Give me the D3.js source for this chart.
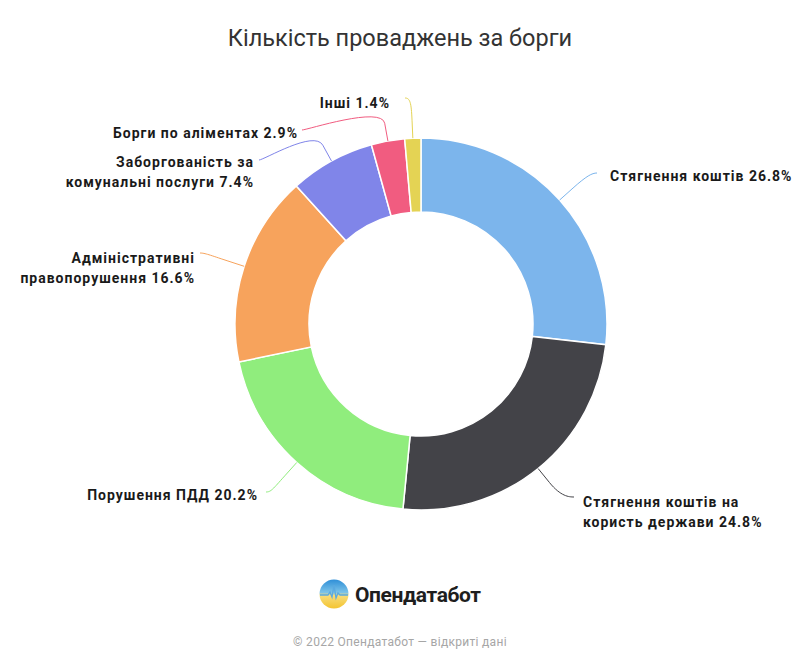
<!DOCTYPE html>
<html>
<head>
<meta charset="utf-8">
<script src="https://cdn.jsdelivr.net/npm/d3@7"></script>
<style>
  body { margin: 0; background: #fff; }
  svg { display: block; font-family: Roboto, "Noto Sans", sans-serif; }
</style>
</head>
<body>
<div id="chart"></div>
<script>
// Кількість проваджень за борги (share, %)
const categories = [
  "Стягнення коштів",
  "Стягнення коштів на користь держави",
  "Порушення ПДД",
  "Адміністративні правопорушення",
  "Заборгованість за комунальні послуги",
  "Борги по аліментах",
  "Інші"
];
const values = [26.8, 24.8, 20.2, 16.6, 7.4, 2.9, 1.4];
// label text split into lines as in the picture
const labelLines = [
  ["Стягнення коштів 26.8%"],
  ["Стягнення коштів на", "користь держави 24.8%"],
  ["Порушення ПДД 20.2%"],
  ["Адміністративні", "правопорушення 16.6%"],
  ["Заборгованість за", "комунальні послуги 7.4%"],
  ["Борги по аліментах 2.9%"],
  ["Інші 1.4%"]
];

const colors = ["#7cb5ec", "#434348", "#90ed7d", "#f7a35c", "#8085e9", "#f15c80", "#e4d354"];

// label placement (text anchor x, first line y, side, connector end) - layout only
const labelLayout = [
  { x: 610, y: 176, side: "r", cx: 597, cy: 173 },
  { x: 583, y: 502, side: "r", cx: 574, cy: 497 },
  { x: 258, y: 495, side: "l", cx: 266, cy: 492 },
  { x: 195, y: 258, side: "l", cx: 200, cy: 253 },
  { x: 254, y: 162, side: "l", cx: 259, cy: 160 },
  { x: 298, y: 133, side: "l", cx: 302, cy: 130 },
  { x: 390, y: 103, side: "l", cx: 405, cy: 98 }
];

const W = 800, H = 666;
const cx = 421, cy = 324, rOuter = 186, rInner = 112;

const svg = d3.select("#chart").append("svg")
  .attr("width", W).attr("height", H);

// title
svg.append("text")
  .attr("x", 400).attr("y", 46)
  .attr("text-anchor", "middle")
  .attr("fill", "#333")
  .style("font-size", "23.5px")
  .text("Кількість проваджень за борги");

const pie = d3.pie().sort(null).value(d => d);
const arcs = pie(values);
const arc = d3.arc().innerRadius(rInner).outerRadius(rOuter);

const g = svg.append("g").attr("transform", `translate(${cx},${cy})`);

g.selectAll("path.slice")
  .data(arcs)
  .enter().append("path")
  .attr("class", "slice")
  .attr("d", arc)
  .attr("fill", (d, i) => colors[i])
  .attr("stroke", "#fff")
  .attr("stroke-width", 1.5);

// connectors (soft connector, Highcharts-like)
const pos = (a, r) => [cx + r * Math.sin(a), cy - r * Math.cos(a)];
arcs.forEach((d, i) => {
  const a = (d.startAngle + d.endAngle) / 2;
  const touch = pos(a, rOuter);
  const brk = pos(a, rOuter + 18);
  const L = labelLayout[i];
  const p = d3.path();
  p.moveTo(L.cx, L.cy);
  p.bezierCurveTo(L.cx + (L.side === "r" ? -5 : 5), L.cy,
    2 * brk[0] - touch[0], 2 * brk[1] - touch[1], brk[0], brk[1]);
  p.lineTo(touch[0], touch[1]);
  svg.append("path")
    .attr("d", p.toString())
    .attr("fill", "none")
    .attr("stroke", colors[i])
    .attr("stroke-width", 1);
});

// labels
labelLines.forEach((lines, i) => {
  const L = labelLayout[i];
  const t = svg.append("text")
    .attr("text-anchor", L.side === "r" ? "start" : "end")
    .attr("fill", "#1a1a1a")
    .style("font-size", "14px")
    .style("font-weight", "bold")
    .style("letter-spacing", "1px");
  lines.forEach((ln, j) => {
    t.append("tspan")
      .attr("x", L.x)
      .attr("y", L.y + 19.5 * j + 5)
      .text(ln);
  });
});

// logo
const logo = svg.append("g").attr("transform", "translate(334,594)");
const grad = svg.append("defs").append("linearGradient")
  .attr("id", "lg").attr("x1", 0).attr("y1", 0).attr("x2", 0).attr("y2", 1);
grad.append("stop").attr("offset", "0%").attr("stop-color", "#2f8fd8");
grad.append("stop").attr("offset", "45%").attr("stop-color", "#7cc3e8");
grad.append("stop").attr("offset", "55%").attr("stop-color", "#f7dc7a");
grad.append("stop").attr("offset", "100%").attr("stop-color", "#f4c430");
logo.append("circle").attr("r", 14.5).attr("fill", "url(#lg)");
logo.append("path")
  .attr("d", "M-14,1 L-6,1 L-4,-2 L-2,3 L0,-9 L2,4 L4,-1 L6,1 L14,1")
  .attr("fill", "none").attr("stroke", "#5aa9e0").attr("stroke-width", 1.3);
svg.append("text")
  .attr("x", 355).attr("y", 602)
  .attr("fill", "#1e1e1e")
  .style("font-size", "21px")
  .style("font-weight", "bold")
  .style("letter-spacing", "-0.4px")
  .text("Опендатабот");

// footer
svg.append("text")
  .attr("x", 400).attr("y", 646)
  .attr("text-anchor", "middle")
  .attr("fill", "#a6a6a6")
  .style("font-size", "12px")
  .style("letter-spacing", "0.3px")
  .text("© 2022 Опендатабот — відкриті дані");
</script>
</body>
</html>
